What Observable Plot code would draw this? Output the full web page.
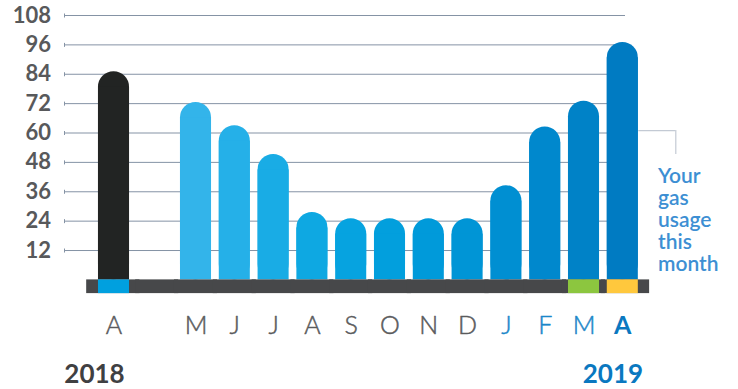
<!DOCTYPE html>
<html>
<head>
<meta charset="utf-8">
<script src="https://cdn.jsdelivr.net/npm/d3@7"></script>
<script src="https://cdn.jsdelivr.net/npm/@observablehq/plot@0.6"></script>
<style>
  html, body { margin: 0; padding: 0; background: #fff; }
  #chart { width: 738px; height: 389px; }
</style>
</head>
<body>
<div id="chart"></div>
<script>
// ---- data ----
const slots = ["A18", "gap", "May", "Jun", "Jul", "Aug", "Sep", "Oct", "Nov", "Dec", "Jan", "Feb", "Mar", "Apr"];
const months = ["A18", "May", "Jun", "Jul", "Aug", "Sep", "Oct", "Nov", "Dec", "Jan", "Feb", "Mar", "Apr"];
const monthLabels = ["A", "M", "J", "J", "A", "S", "O", "N", "D", "J", "F", "M", "A"];
const usage = [85, 72.5, 63, 51.2, 27.5, 25, 25, 25, 25, 38.5, 62.5, 73, 97];
const yTicks = [12, 24, 36, 48, 60, 72, 84, 96, 108];
const years = ["2018", "2019"];
const note = ["Your", "gas", "usage", "this", "month"];

// ---- styles ----
const ramp = d3.interpolateRgbBasis(["#33b4ea", "#00a5e1", "#0094d6", "#007bc2"]);
const barColor = (d, i) => i === 0 ? "#222423" : ramp((i - 1) / 11);
const labelColor = (i) => i >= 9 ? (i === 12 ? "#0a78c0" : "#1b87c9") : "#5a5b5d";

const bars = months.map((m, i) => ({ m, v: usage[i], fill: barColor(m, i) }));
const labels = months.map((m, i) => ({ m, t: monthLabels[i], fill: labelColor(i), w: i === 12 ? 700 : 400 }));
const stripDepth = -5.6;
const capUnits = 6.3; // bar corner radius (15.5px) in y units
const shiftA18 = -4.4; // last-year bar sits slightly further left than its slot
const stripMid = slots.slice(1, -1);
// note lines: one text per line, 22px apart (8.99 y-units)
const noteLines = note.map((t, i) => ({ t, y: 39.4 - i * 8.99 }));

const barMarks = (data, dx) => [
  Plot.barY(data, { x: "m", y1: 0, y2: "v", fill: "fill", rx: 15.5, dx }),
  Plot.barY(data, { x: "m", y1: 0, y2: d => d.v - capUnits, fill: "fill", dx })
];

const plot = Plot.plot({
  width: 738,
  height: 389,
  marginTop: 15,
  marginBottom: 109.6,
  marginLeft: 64,
  marginRight: 113,
  style: { fontFamily: "Lato, 'Open Sans', sans-serif", background: "#fff", overflow: "visible" },
  x: { type: "band", domain: slots, range: [98.5, 641.7], paddingInner: 0.2, paddingOuter: 0.1, round: false, axis: null },
  y: { domain: [0, 108], axis: null },
  marks: [
    // gridlines
    Plot.ruleY(yTicks, { stroke: "#8593a5", strokeWidth: 1 }),
    Plot.dot(yTicks, {
      y: d => d, frameAnchor: "left", r: 2, stroke: "#8593a5", strokeWidth: 1, fill: "none",
      symbol: { draw(ctx, size) { ctx.moveTo(0, -2); ctx.lineTo(0, 2); } }
    }),
    // y tick labels
    Plot.text(yTicks, {
      y: d => d, text: d => String(d), frameAnchor: "left", textAnchor: "end", dx: -13.5,
      fontSize: 22, fontWeight: 700, fill: "#58595b"
    }),
    // bars: rounded top + square bottom
    ...barMarks(bars.slice(0, 1), shiftA18),
    ...barMarks(bars.slice(1), 0),
    // dark strip
    Plot.barY([slots[0]], { x: d => d, y1: 0, y2: stripDepth, fill: "#47484a", insetLeft: -16.2, insetRight: -6 }),
    Plot.barY(stripMid, { x: d => d, y1: 0, y2: stripDepth, fill: "#47484a", insetLeft: -6, insetRight: -6 }),
    Plot.barY([slots[slots.length - 1]], { x: d => d, y1: 0, y2: stripDepth, fill: "#47484a", insetLeft: -6, insetRight: -11.3 }),
    // coloured markers in strip
    Plot.barY([{ m: "A18", c: "#00a0df" }], { x: "m", y1: 0, y2: stripDepth, fill: "c", dx: shiftA18 }),
    Plot.barY([{ m: "Mar", c: "#8cc63f" }, { m: "Apr", c: "#ffc83d" }],
      { x: "m", y1: 0, y2: stripDepth, fill: "c" }),
    // month labels
    Plot.text(labels.slice(0, 1), {
      x: "m", text: "t", fill: "fill", frameAnchor: "bottom", dy: 54, dx: shiftA18, fontSize: 25, fontWeight: 300,
      stroke: "fill", strokeWidth: 0.5
    }),
    Plot.text(labels.slice(1).filter(d => d.w === 400), {
      x: "m", text: "t", fill: "fill", frameAnchor: "bottom", dy: 54, fontSize: 25, fontWeight: 300,
      stroke: "fill", strokeWidth: 0.5
    }),
    Plot.text(labels.filter(d => d.w === 700), {
      x: "m", text: "t", fill: "fill", frameAnchor: "bottom", dy: 54, fontSize: 25, fontWeight: 700
    }),
    // years
    Plot.text([years[0]], { x: () => "A18", text: d => d, frameAnchor: "bottom", dx: -23.9, dy: 103, fontSize: 26, fontWeight: 700, fill: "#3f4042" }),
    Plot.text([years[1]], { x: () => "Apr", text: d => d, frameAnchor: "bottom", dx: -9.9, dy: 103, fontSize: 26, fontWeight: 700, fill: "#0a78c0" }),
    // connector
    Plot.tickY([61], { x: () => "Apr", y: d => d, dx: 31.5, insetRight: -6, stroke: "#c3cad4", strokeWidth: 1.2 }),
    Plot.ruleX(["Apr"], { x: d => d, y1: 61, y2: 51.2, dx: 53, stroke: "#c3cad4", strokeWidth: 1.2 }),
    // note
    Plot.text(noteLines, {
      y: "y", text: "t", frameAnchor: "right", dx: 32.5, textAnchor: "start", lineAnchor: "bottom",
      fontSize: 21, fontWeight: 600, fill: "#3d8fd3"
    })
  ]
});
document.getElementById("chart").append(plot);
</script>
</body>
</html>
